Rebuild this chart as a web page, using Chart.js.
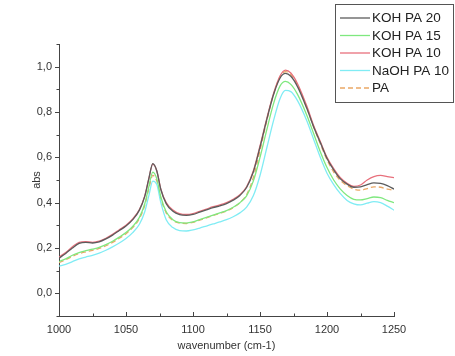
<!DOCTYPE html>
<html>
<head>
<meta charset="utf-8">
<script src="https://cdn.jsdelivr.net/npm/chart.js@4.4.0/dist/chart.umd.min.js"></script>
<style>
  html, body { margin: 0; padding: 0; background: #fff; }
</style>
</head>
<body>
<canvas id="spectra" width="455" height="356"></canvas>
<script>
// wavenumber (cm-1) sample positions, shared by all series
const wavenumber = [1000, 1005, 1010, 1015, 1020, 1025, 1030, 1035, 1040, 1045, 1050, 1055, 1060, 1064, 1067, 1070, 1073, 1076, 1080, 1085,
  1090, 1095, 1100, 1105, 1110, 1115, 1120, 1125, 1130, 1135, 1140, 1145, 1150, 1155, 1160, 1165, 1169, 1173, 1178, 1185,
  1190, 1195, 1200, 1205, 1210, 1215, 1220, 1225, 1230, 1235, 1240, 1245, 1250];

const kohPa20 = [0.155, 0.176, 0.200, 0.220, 0.225, 0.222, 0.227, 0.240, 0.257, 0.277, 0.297, 0.325, 0.367, 0.428, 0.505, 0.572, 0.540, 0.458, 0.396, 0.362,
  0.347, 0.344, 0.348, 0.358, 0.368, 0.378, 0.386, 0.396, 0.411, 0.432, 0.467, 0.535, 0.645, 0.765, 0.875, 0.950, 0.970, 0.958, 0.912, 0.815,
  0.735, 0.665, 0.595, 0.545, 0.505, 0.482, 0.468, 0.470, 0.480, 0.487, 0.485, 0.475, 0.460];

const kohPa15 = [0.140, 0.152, 0.168, 0.180, 0.188, 0.195, 0.203, 0.215, 0.230, 0.248, 0.268, 0.295, 0.335, 0.395, 0.470, 0.535, 0.505, 0.425, 0.360, 0.325,
  0.312, 0.310, 0.315, 0.325, 0.335, 0.345, 0.355, 0.365, 0.380, 0.400, 0.430, 0.495, 0.600, 0.720, 0.835, 0.915, 0.935, 0.922, 0.878, 0.785,
  0.705, 0.625, 0.555, 0.500, 0.460, 0.432, 0.415, 0.412, 0.418, 0.425, 0.422, 0.410, 0.400];

const kohPa10 = [0.160, 0.180, 0.205, 0.225, 0.228, 0.225, 0.230, 0.243, 0.260, 0.280, 0.300, 0.328, 0.370, 0.430, 0.505, 0.570, 0.540, 0.460, 0.400, 0.368,
  0.352, 0.348, 0.352, 0.362, 0.372, 0.382, 0.390, 0.400, 0.415, 0.435, 0.470, 0.540, 0.650, 0.770, 0.880, 0.960, 0.985, 0.972, 0.925, 0.825,
  0.740, 0.670, 0.600, 0.550, 0.510, 0.485, 0.472, 0.478, 0.500, 0.515, 0.520, 0.515, 0.510];

const naohPa10 = [0.120, 0.128, 0.140, 0.152, 0.160, 0.168, 0.177, 0.190, 0.205, 0.222, 0.242, 0.268, 0.305, 0.360, 0.430, 0.495, 0.480, 0.400, 0.325, 0.290,
  0.277, 0.275, 0.280, 0.288, 0.297, 0.306, 0.315, 0.325, 0.338, 0.355, 0.380, 0.430, 0.520, 0.640, 0.760, 0.860, 0.895, 0.890, 0.850, 0.760,
  0.680, 0.600, 0.530, 0.480, 0.440, 0.410, 0.395, 0.390, 0.398, 0.405, 0.400, 0.385, 0.367];

const pa = [0.135, 0.148, 0.163, 0.175, 0.183, 0.190, 0.198, 0.210, 0.225, 0.243, 0.263, 0.290, 0.330, 0.388, 0.460, 0.520, 0.495, 0.418, 0.355, 0.322,
  0.310, 0.308, 0.313, 0.323, 0.333, 0.343, 0.353, 0.363, 0.378, 0.400, 0.435, 0.510, 0.630, 0.760, 0.875, 0.955, 0.978, 0.965, 0.918, 0.818,
  0.735, 0.660, 0.590, 0.535, 0.498, 0.475, 0.460, 0.455, 0.462, 0.470, 0.468, 0.460, 0.455];

const seriesNames = ['KOH PA 20', 'KOH PA 15', 'KOH PA 10', 'NaOH PA 10', 'PA'];
const seriesValues = [kohPa20, kohPa15, kohPa10, naohPa10, pa];
const seriesColors = ['#5c5c5c', '#7fe87f', '#e8707c', '#80ecf4', '#eaa866'];
const seriesDashes = [[], [], [], [], [5, 3]];

const FONT = "'Liberation Sans', Arial, sans-serif";

// inward x ticks, outward y ticks, with minor ticks between labels
const axisTicks = {
  id: 'axisTicks',
  afterDraw(chart) {
    const ctx = chart.ctx, xs = chart.scales.x, ys = chart.scales.y, a = chart.chartArea;
    ctx.save();
    ctx.strokeStyle = '#444';
    ctx.lineWidth = 1;
    ctx.beginPath();
    for (let v = 1000; v <= 1250; v += 25) {
      const px = Math.round(xs.getPixelForValue(v)) + 0.5;
      const len = v % 50 === 0 ? 4 : 2.5;
      ctx.moveTo(px, a.bottom);
      ctx.lineTo(px, a.bottom - len);
    }
    for (let k = -1; k <= 11; k++) {
      const py = Math.round(ys.getPixelForValue(k / 10)) + 0.5;
      const len = k % 2 === 0 ? 4 : 2.5;
      ctx.moveTo(a.left, py);
      ctx.lineTo(a.left - len, py);
    }
    ctx.stroke();
    ctx.restore();
  }
};

// boxed legend overlapping the top right of the plot
const boxLegend = {
  id: 'boxLegend',
  afterDraw(chart) {
    const ctx = chart.ctx;
    const left = 335, top = 4, right = 453, bottom = 102;
    ctx.save();
    ctx.fillStyle = '#fff';
    ctx.fillRect(left, top, right - left, bottom - top);
    ctx.strokeStyle = '#555';
    ctx.lineWidth = 1;
    ctx.strokeRect(left + 0.5, top + 0.5, right - left, bottom - top);
    ctx.font = '13.5px ' + FONT;
    ctx.textBaseline = 'middle';
    chart.data.datasets.forEach((ds, i) => {
      const y = 18 + i * 17.5;
      ctx.strokeStyle = ds.borderColor;
      ctx.lineWidth = 1.3;
      ctx.setLineDash(ds.borderDash || []);
      ctx.beginPath();
      ctx.moveTo(340, y);
      ctx.lineTo(370, y);
      ctx.stroke();
      ctx.setLineDash([]);
      ctx.fillStyle = '#222';
      ctx.fillText(ds.label, 372, y + 0.5);
    });
    ctx.restore();
  }
};

const ctx = document.getElementById('spectra').getContext('2d');
const chart = new Chart(ctx, {
  type: 'line',
  data: {
    datasets: seriesNames.map((name, i) => ({
      label: name,
      data: wavenumber.map((w, j) => ({ x: w, y: seriesValues[i][j] })),
      borderColor: seriesColors[i],
      borderWidth: 1.3,
      borderDash: seriesDashes[i],
      pointRadius: 0,
      fill: false,
      cubicInterpolationMode: 'monotone'
    }))
  },
  options: {
    responsive: false,
    animation: false,
    layout: { padding: { top: 44, right: 61, left: 0, bottom: 0 } },
    plugins: {
      legend: { display: false },
      tooltip: { enabled: false }
    },
    scales: {
      x: {
        type: 'linear',
        min: 1000,
        max: 1250,
        afterFit: s => { s.height = 40; },
        grid: { display: true, drawOnChartArea: false, drawTicks: false },
        border: { display: true, color: '#444', width: 1 },
        ticks: {
          stepSize: 25,
          autoSkip: false,
          maxRotation: 0,
          padding: 7,
          color: '#333',
          font: { family: FONT, size: 11 },
          callback: v => (v % 50 === 0 ? String(v) : '')
        },
        title: {
          display: true,
          text: 'wavenumber (cm-1)',
          color: '#333',
          font: { family: FONT, size: 11 },
          padding: { top: 0, bottom: 3 }
        }
      },
      y: {
        min: -0.1,
        max: 1.1,
        afterFit: s => { s.width = 59; },
        grid: { display: true, drawOnChartArea: false, drawTicks: false },
        border: { display: true, color: '#444', width: 1 },
        ticks: {
          stepSize: 0.1,
          autoSkip: false,
          padding: 7,
          color: '#333',
          font: { family: FONT, size: 11 },
          callback: v => {
            const k = Math.round(v * 10);
            return (k % 2 === 0 && k >= 0 && k <= 10) ? (k / 10).toFixed(1).replace('.', ',') : '';
          }
        },
        title: {
          display: true,
          text: 'abs',
          color: '#333',
          font: { family: FONT, size: 11 },
          padding: { top: 30, bottom: 0 }
        }
      }
    }
  },
  plugins: [axisTicks, boxLegend]
});
</script>
</body>
</html>
